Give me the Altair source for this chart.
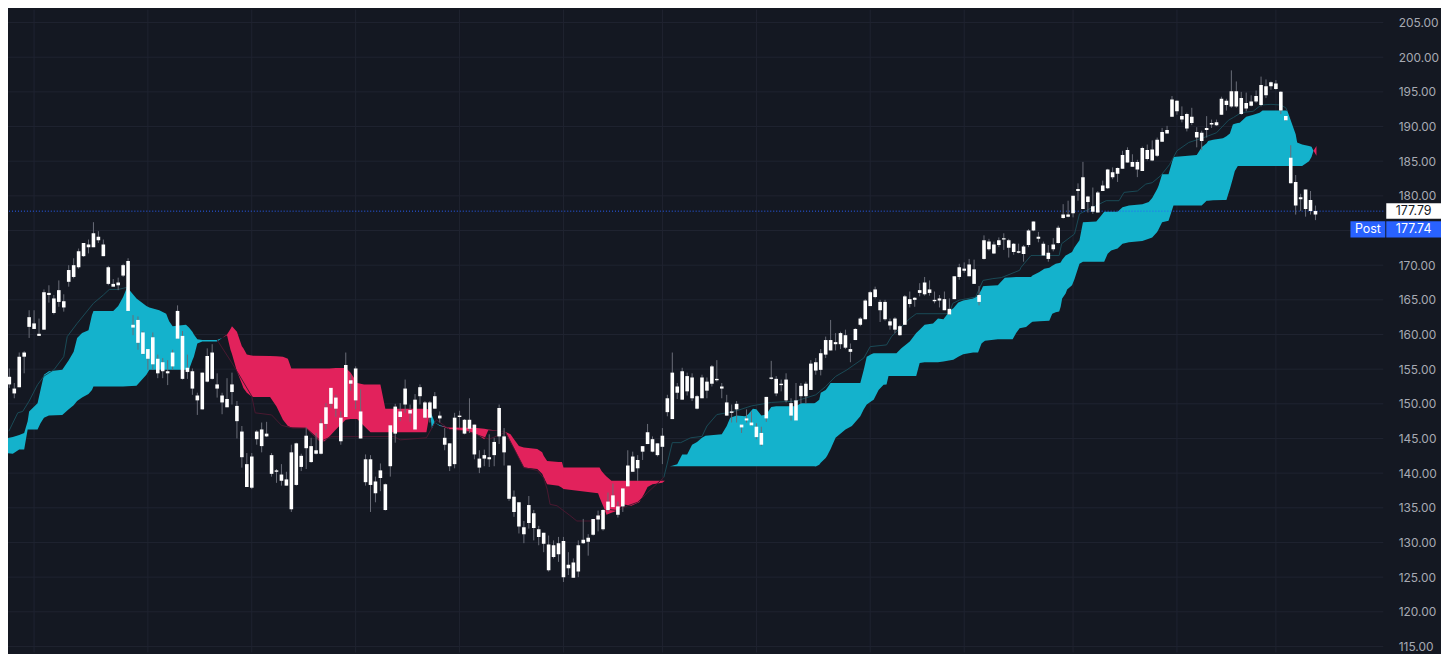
import altair as alt
import pandas as pd

# ---------------- candles (all bodies drawn white, so open/close order is not visible) ----------------
body_top = [
    155.4, 153.9, 152.2, 156.8, 157.4, 162.5, 161.6, 160.1, 166.1, 166.0,
    165.2, 166.4, 164.8, 169.3, 170.0, 172.0, 173.2, 173.0, 174.6, 174.1,
    173.0, 169.7, 167.3, 167.5, 170.0, 170.6, 161.4, 162.1, 160.3, 157.9,
    159.6, 156.5, 156.0, 154.7, 157.4, 163.4, 159.8, 155.2, 154.7, 151.2,
    154.5, 156.9, 157.4, 152.8, 151.2, 150.7, 152.8, 149.7, 146.0, 141.3,
    142.4, 146.0, 146.3, 145.7, 142.6, 140.4, 139.8, 139.1, 143.0, 144.3,
    142.5, 145.4, 143.9, 143.3, 147.2, 149.5, 152.3, 150.9, 148.0, 155.6,
    153.4, 155.1, 148.9, 142.0, 142.0, 138.8, 140.4, 138.4, 146.9, 149.6,
    148.9, 152.2, 149.1, 150.6, 152.4, 150.2, 150.2, 151.1, 148.3, 145.1,
    144.3, 148.0, 148.3, 147.7, 147.7, 147.0, 142.1, 142.6, 142.3, 144.5,
    149.4, 145.3, 141.1, 136.6, 135.8, 132.2, 135.4, 134.2, 131.9, 131.4,
    129.7, 129.6, 129.9, 130.2, 126.8, 127.1, 129.6, 130.4, 130.7, 133.4,
    133.9, 134.7, 135.9, 136.8, 135.2, 137.8, 141.1, 142.4, 141.9, 143.9,
    145.9, 144.9, 144.3, 145.4, 150.8, 154.5, 152.5, 154.7, 154.0, 153.8,
    151.1, 153.8, 153.2, 155.4, 153.6, 152.5, 150.2, 148.9, 150.0, 147.0,
    147.9, 147.3, 146.7, 145.8, 151.0, 153.8, 153.6, 152.9, 153.5, 150.1,
    150.5, 152.6, 152.9, 155.8, 156.0, 157.3, 159.2, 159.2, 158.9, 160.2,
    159.9, 157.9, 160.8, 162.3, 164.9, 166.1, 166.5, 164.7, 164.7, 161.9,
    162.3, 161.2, 165.5, 165.1, 165.3, 166.4, 167.5, 166.5, 165.0, 165.2,
    165.1, 163.7, 168.4, 169.7, 169.5, 170.1, 169.4, 165.7, 173.6, 173.4,
    173.0, 173.6, 173.9, 173.6, 173.1, 172.0, 172.7, 175.0, 176.3, 174.1,
    173.1, 171.8, 173.0, 175.4, 177.3, 177.3, 180.0, 181.0, 182.7, 179.9,
    178.5, 180.5, 181.5, 183.8, 183.4, 184.0, 185.9, 186.6, 184.9, 184.9,
    186.9, 186.6, 186.7, 188.1, 189.2, 189.5, 193.9, 193.7, 191.5, 191.8,
    191.4, 189.2, 189.1, 189.8, 190.5, 190.6, 194.0, 193.7, 195.1, 195.1,
    194.1, 193.4, 193.6, 194.4, 196.0, 195.8, 196.4, 196.2, 195.0, 191.5,
    185.5, 182.0, 179.8, 180.9, 179.4, 177.8,
]
body_bottom = [
    154.0, 152.8, 151.5, 152.4, 156.8, 161.1, 160.8, 159.8, 160.7, 165.7,
    163.1, 164.7, 163.9, 167.6, 168.3, 169.7, 171.3, 172.6, 172.6, 173.6,
    171.3, 167.3, 166.9, 167.1, 168.5, 163.4, 161.0, 158.8, 157.2, 156.5,
    155.7, 154.4, 154.7, 154.4, 155.4, 159.4, 153.6, 154.6, 152.2, 150.5,
    149.2, 153.2, 153.6, 152.2, 150.2, 149.5, 151.7, 147.5, 142.3, 138.0,
    137.9, 144.9, 143.9, 145.3, 139.9, 140.2, 138.9, 138.2, 134.8, 138.3,
    140.9, 143.6, 141.6, 142.8, 142.8, 147.1, 150.0, 149.3, 144.6, 148.1,
    152.9, 150.5, 145.0, 138.7, 138.3, 137.1, 139.3, 134.7, 141.0, 145.7,
    148.1, 149.9, 148.6, 146.3, 151.1, 148.0, 148.0, 149.3, 147.9, 144.1,
    141.0, 141.3, 148.1, 145.7, 146.4, 142.7, 140.8, 142.1, 142.0, 142.6,
    145.3, 143.0, 136.3, 134.4, 132.3, 131.2, 132.8, 132.1, 130.8, 129.8,
    126.0, 127.9, 128.3, 125.0, 126.3, 124.9, 125.8, 129.9, 130.1, 131.1,
    133.3, 131.9, 134.7, 135.1, 134.0, 135.2, 138.1, 140.2, 140.7, 143.1,
    144.2, 143.1, 142.6, 143.8, 148.8, 147.8, 151.6, 150.6, 151.8, 150.8,
    149.3, 150.8, 151.9, 152.9, 153.4, 152.2, 148.3, 148.7, 149.2, 146.6,
    147.6, 146.9, 145.2, 144.1, 147.9, 153.6, 151.5, 152.7, 150.5, 148.3,
    147.6, 151.1, 151.1, 152.0, 154.8, 154.9, 157.1, 157.7, 158.6, 158.6,
    158.1, 157.5, 159.2, 161.4, 162.2, 164.1, 165.4, 163.5, 162.2, 161.3,
    160.7, 159.9, 161.4, 164.4, 165.0, 166.0, 165.8, 166.0, 164.8, 164.9,
    163.5, 162.9, 165.1, 168.3, 169.2, 168.4, 167.3, 164.7, 170.9, 172.3,
    171.7, 172.9, 173.7, 172.5, 171.9, 171.8, 171.6, 172.9, 175.0, 173.8,
    171.4, 170.9, 172.3, 173.2, 176.8, 177.0, 177.5, 180.7, 178.1, 179.1,
    177.7, 177.6, 180.7, 181.1, 182.7, 183.2, 183.9, 184.8, 184.2, 183.8,
    183.6, 185.3, 185.1, 185.8, 187.8, 189.0, 191.4, 192.2, 191.0, 189.7,
    190.5, 188.4, 187.9, 189.5, 190.3, 190.2, 191.7, 193.1, 192.9, 192.9,
    191.8, 192.6, 193.0, 193.6, 193.1, 194.5, 195.8, 195.4, 192.3, 190.9,
    181.8, 178.6, 179.5, 178.1, 177.8, 177.3,
]
high = [
    156.0, 155.1, 153.0, 157.4, 157.6, 163.5, 163.5, 162.3, 166.5, 167.1,
    165.7, 167.8, 165.8, 170.0, 171.0, 172.4, 173.2, 173.7, 176.2, 174.9,
    173.7, 169.9, 168.0, 168.2, 170.2, 171.0, 162.8, 162.6, 160.5, 157.9,
    160.3, 157.1, 156.6, 156.3, 157.8, 164.2, 160.5, 157.1, 155.1, 151.6,
    154.5, 158.0, 158.6, 154.4, 151.6, 153.7, 154.5, 150.4, 146.8, 142.9,
    142.9, 146.2, 147.3, 147.4, 142.9, 140.6, 141.3, 140.2, 144.1, 144.4,
    142.8, 146.6, 145.1, 145.8, 147.8, 150.1, 152.3, 151.3, 148.9, 157.4,
    154.2, 155.4, 152.1, 142.7, 142.6, 139.5, 141.4, 138.5, 146.9, 150.0,
    150.1, 153.5, 149.9, 151.4, 152.8, 150.4, 150.4, 151.7, 148.9, 146.5,
    144.3, 148.7, 149.0, 147.8, 150.8, 147.0, 143.3, 143.4, 145.6, 145.1,
    149.9, 146.5, 141.1, 137.5, 135.8, 133.1, 136.7, 134.7, 132.4, 131.4,
    131.0, 130.3, 130.8, 130.8, 128.6, 127.7, 130.3, 133.4, 131.2, 133.4,
    134.6, 134.8, 137.2, 138.5, 135.9, 137.8, 143.3, 143.1, 142.6, 143.9,
    147.1, 145.3, 144.3, 146.5, 151.3, 157.4, 153.0, 155.2, 154.5, 154.4,
    151.3, 154.2, 153.8, 155.6, 156.3, 153.0, 151.3, 149.9, 150.4, 147.0,
    149.2, 148.9, 147.2, 146.7, 151.0, 156.2, 154.0, 153.5, 154.4, 150.8,
    153.0, 153.0, 153.2, 156.3, 156.6, 157.9, 159.7, 162.1, 160.2, 160.4,
    160.7, 158.7, 160.9, 162.5, 165.1, 166.3, 166.9, 165.0, 165.0, 162.3,
    162.5, 161.4, 165.7, 166.2, 165.4, 167.4, 168.3, 167.8, 166.2, 165.7,
    166.2, 165.2, 168.4, 170.2, 170.4, 170.9, 170.8, 167.0, 174.3, 173.8,
    173.4, 174.0, 174.6, 173.8, 173.2, 173.1, 172.9, 175.2, 176.3, 174.8,
    173.4, 172.9, 173.9, 175.7, 178.8, 179.3, 180.0, 181.8, 184.9, 180.0,
    181.2, 180.7, 182.2, 183.9, 184.1, 184.1, 186.5, 187.0, 186.0, 185.2,
    187.1, 187.4, 188.0, 188.4, 189.8, 190.1, 194.4, 193.8, 192.9, 192.0,
    192.7, 189.9, 189.4, 191.5, 191.0, 191.0, 194.3, 194.0, 198.1, 196.5,
    195.0, 194.9, 194.5, 195.2, 197.2, 196.8, 196.5, 196.7, 195.1, 191.5,
    187.3, 183.0, 180.3, 180.9, 180.7, 178.6,
]
low = [
    153.0, 152.3, 150.8, 152.4, 154.4, 159.5, 160.8, 159.8, 160.7, 164.6,
    162.9, 164.0, 163.3, 166.9, 168.1, 169.5, 171.2, 171.7, 172.6, 173.2,
    171.3, 167.1, 166.9, 166.4, 168.3, 163.4, 159.9, 157.8, 157.1, 154.9,
    154.9, 153.7, 153.7, 152.7, 154.9, 159.4, 153.5, 153.6, 151.3, 148.4,
    149.2, 153.1, 153.5, 150.9, 148.5, 149.5, 149.9, 145.0, 140.8, 138.0,
    137.7, 144.1, 143.0, 145.2, 139.5, 138.6, 138.2, 138.2, 134.4, 138.2,
    140.3, 140.6, 141.5, 142.7, 142.7, 146.3, 149.4, 148.1, 144.1, 148.1,
    151.9, 149.2, 145.0, 138.2, 134.4, 135.8, 137.4, 134.6, 139.5, 144.4,
    147.5, 148.7, 147.4, 146.3, 149.9, 147.8, 147.3, 149.3, 147.3, 143.3,
    140.3, 140.7, 146.5, 145.6, 145.8, 142.0, 140.0, 141.0, 140.9, 141.0,
    144.2, 141.1, 136.0, 133.7, 131.3, 129.9, 132.0, 130.3, 129.6, 128.6,
    125.8, 127.7, 127.2, 124.3, 125.3, 124.9, 125.0, 129.8, 128.1, 131.0,
    131.6, 131.7, 134.4, 135.1, 133.6, 134.4, 138.1, 140.2, 138.9, 141.9,
    144.2, 143.0, 142.4, 141.3, 148.2, 147.8, 150.7, 150.6, 151.2, 150.4,
    149.2, 150.8, 150.8, 152.5, 153.2, 150.8, 148.3, 147.3, 147.3, 145.8,
    147.3, 146.8, 144.9, 143.9, 147.4, 153.5, 151.1, 151.8, 150.2, 147.6,
    147.6, 150.0, 150.0, 152.0, 154.2, 154.1, 156.6, 157.7, 157.7, 157.9,
    157.9, 156.0, 159.2, 161.2, 162.2, 164.1, 165.2, 161.8, 162.0, 160.7,
    160.2, 159.8, 161.4, 163.9, 164.0, 165.5, 165.6, 165.6, 164.5, 163.9,
    163.5, 162.8, 165.1, 167.9, 168.9, 168.4, 167.3, 164.2, 170.8, 172.1,
    171.6, 172.6, 172.2, 171.1, 171.5, 171.7, 170.5, 172.6, 174.9, 173.3,
    171.4, 170.5, 172.0, 173.1, 176.7, 176.9, 176.9, 179.3, 178.1, 177.6,
    177.4, 177.6, 180.7, 181.0, 182.4, 182.0, 183.9, 184.8, 184.2, 182.7,
    183.6, 185.1, 185.0, 185.6, 187.8, 189.0, 191.4, 191.7, 190.6, 189.3,
    190.2, 187.0, 186.6, 188.4, 189.8, 190.1, 191.7, 192.3, 192.7, 192.7,
    191.7, 192.2, 192.9, 193.4, 192.9, 194.1, 195.3, 195.3, 191.8, 190.8,
    181.8, 177.3, 177.8, 177.0, 177.3, 176.5,
]

# ---------------- cloud: leading span A / span B, sampled at bar positions ----------------
cloud_pos = [
    0, 1.7, 3, 4, 4.7, 5, 6.7, 7.3, 8, 9, 11.7, 13, 14, 14.7, 15.7, 17, 17.7, 18, 22, 23,
    24, 24.8, 26.7, 28.7, 29.3, 31.3, 32.7, 33.3, 34, 36.7, 37.3, 38, 38.3, 39, 40, 43, 44,
    45, 45.7, 46, 47, 48, 48.3, 49, 49.7, 50.3, 53.7, 55, 56.3, 57.3, 58, 61, 63.7, 64.7,
    65.7, 67, 68, 69, 70, 71.3, 72.7, 74, 76, 77, 85.3, 86,
    86.4, 87, 88, 89.7, 94, 95.5, 97, 97.8, 100,
    101.3, 102.3, 103, 104, 105, 107.7, 108.7, 109, 109.7, 112, 112.7, 113, 120, 120.3,
    120.7, 121.3, 121.7, 122.7, 124, 125, 126.7, 128.3, 129.3, 130, 131, 133, 133.5, 134.5,
    135, 136, 137, 138, 139, 140, 141, 141.7, 145, 146, 146.7, 148, 149.7, 150.3, 151.3,
    152, 153, 154, 155, 156, 160, 161, 163.7, 164, 164.7, 165, 166, 166.3, 167, 168, 170,
    171.3, 173, 173.7, 174.3, 175.3, 175.7, 176.7, 177.7, 178.3, 178.7, 180.3, 181.3, 183,
    184.3, 185, 186, 187.7, 188.7, 189.8,
    191.2, 191.8, 192.8, 193.8, 195.8, 196.8, 197.5, 197.8, 198.2, 200.8, 202.2, 203.8,
    204.5, 205.2, 206.5, 207.5, 207.8, 209.2, 210.2, 211.2, 211.8, 212.5, 213.2, 213.5,
    213.8, 214.5, 214.8, 215.8, 216.3, 217.3, 218, 220.7, 221.7, 222.3, 223, 223.7, 225,
    226, 227.3, 230, 231.3, 232, 233, 233.3, 234, 235.3, 236.3, 241, 242, 243, 243.3, 244.3,
    246.3, 247, 247.7, 248.3, 248.7, 249.3, 249.7, 251, 252.3, 253.7, 254.3, 259.3, 260.3,
    261, 261.3, 262.3, 263.7, 264.2, 264.6, 265.2,
]
span_a = [
    144.95, 145.2, 145.5, 145.8, 147.5, 148.9, 150.1, 152.0, 154.2, 154.7, 154.9, 156.3, 157.5,
    159.5, 160.2, 160.6, 162.8, 163.4, 163.4, 164.1,
    165.4, 166.8, 165.2, 164.1, 163.9, 163.5, 163.0, 161.9, 161.2, 161.4, 161.0, 160.4, 160.0,
    159.3, 159.2, 159.2, 159.5,
    159.9, 157.8, 157.2, 154.7, 152.9, 152.3, 151.6, 151.2, 151.0, 151.0, 149.6, 147.7, 146.8,
    146.6, 146.5, 144.6, 144.6,
    145.3, 146.3, 147.0, 147.7, 147.8, 147.8, 146.8, 145.9, 145.9, 145.9, 145.9, 148.8,
    148.4, 147.3, 146.9, 146.4, 146.0, 145.6, 144.9, 146.2, 146.1,
    145.9, 144.5, 143.6, 142.2, 140.8, 140.6, 139.9, 139.4, 138.4, 138.2, 137.9, 137.7, 137.1,
    136.5,
    135.8, 134.8, 134.0, 134.3, 134.6, 135.5, 135.3, 135.8, 137.0, 138.0, 138.4, 138.6, 138.9,
    141.0,
    141.05, 141.3, 142.7, 142.7, 144.1, 144.5, 145.1, 145.4, 145.6, 146.8, 148.0, 148.3, 148.2,
    148.45, 149.3,
    149.2, 148.3, 148.45, 149.55, 149.65, 149.65, 150.1, 150.1, 150.2, 150.6, 151.6, 152.0,
    152.3, 153.0, 153.0, 153.0,
    153.0, 153.0, 154.9, 156.8, 157.2, 157.3, 157.3, 157.3, 157.3, 157.3, 157.3, 158.0, 159.0,
    160.2, 160.7, 161.4, 161.6, 162.3, 162.2,
    163.5, 163.8, 164.6, 164.9, 165.2, 165.6, 166.5, 166.96, 167.0, 167.1, 168.2, 168.25,
    168.3, 168.3, 168.3, 168.3, 168.5, 169.0, 169.5, 169.64, 169.9, 170.2, 170.3, 170.4,
    170.8, 171.4, 171.5, 171.9, 172.6, 173.6, 176.2, 176.3, 177.15, 177.7, 177.7, 177.7, 177.7,
    178.35, 178.6, 178.8, 179.1, 179.7, 181.0, 181.5, 183.1, 183.1, 185.6, 185.9, 187.0, 187.6,
    187.9, 188.1,
    188.3, 188.6, 189.0, 190.3, 190.4, 190.5, 190.55, 191.4, 191.65, 192.0, 192.3, 192.3, 190.3,
    188.9, 187.7, 187.4, 187.2, 187.1, 186.5, 185.8,
]
span_b = [
    142.9, 142.8, 143.4, 143.4, 146.3, 146.3, 146.3, 147.2, 148.0, 148.3, 148.4, 149.2, 149.8,
    150.4, 150.9, 151.4, 152.0, 152.5, 152.5, 152.5,
    152.5, 152.55, 152.6, 154.2, 154.9, 154.9, 154.9, 154.9, 154.9, 154.9, 154.9, 156.3, 156.8,
    158.7, 159.0, 159.0, 159.5,
    160.0, 160.8, 161.2, 160.4, 158.3, 158.0, 157.1, 157.0, 156.95, 156.9, 156.85, 156.8, 156.5,
    155.1, 155.1, 155.1, 155.1,
    155.1, 155.15, 155.15, 155.15, 154.5, 153.0, 152.8, 152.8, 152.8, 149.3, 149.3, 149.1,
    146.4, 147.3, 146.8, 146.6, 146.55, 146.5, 146.4, 146.3, 146.1,
    145.95, 145.6, 144.9, 143.9, 143.7, 143.5, 143.0, 142.5, 141.75, 141.6, 141.6, 140.8, 140.8,
    140.8,
    140.3, 139.8, 139.5, 138.9, 138.9, 138.9, 138.9, 138.9, 138.9, 138.9, 138.9, 138.9, 138.9,
    141.0,
    141.0, 141.0, 141.0, 141.0, 141.0, 141.0, 141.0, 141.0, 141.0, 141.0, 141.0, 141.0, 141.0,
    141.0, 141.0,
    141.0, 141.0, 141.0, 141.0, 141.0, 141.0, 141.0, 141.0, 140.95, 141.2, 141.5, 142.2,
    142.5, 143.5, 145.1, 146.3,
    146.8, 148.2, 149.2, 149.9, 150.4, 150.6, 152.0, 152.75, 152.8, 154.0, 154.0, 154.0, 154.0,
    154.0, 155.9, 156.0, 156.0, 156.0, 156.1,
    156.3, 156.34, 156.8, 157.15, 157.4, 157.4, 158.7, 158.9, 159.1, 159.3, 159.3, 159.3,
    160.2, 160.9, 161.1, 161.7, 161.84, 161.9, 161.95, 162.0, 163.0, 163.2, 163.3, 164.0,
    165.2, 165.9, 166.5, 167.1, 168.0, 170.2, 170.5, 170.5, 170.5, 170.5, 171.65, 172.1, 172.4,
    173.1, 173.3, 173.5, 173.8, 174.0, 174.8, 175.2, 176.2, 176.4, 178.6, 178.6, 178.6, 179.3,
    179.3, 179.35,
    179.4, 179.4, 181.0, 182.5, 183.6, 184.3, 184.3, 184.3, 184.3, 184.3, 184.3, 184.3, 184.3,
    184.3, 184.3, 184.3, 185.0, 185.6, 186.5, 187.2,
]

# ---------------- thin dark lead line that runs just outside the cloud ----------------
lead1_pos = [0.9, 2.7, 3.7, 5, 6.7, 8, 10, 12, 12.7, 14.7, 18, 20, 21.2, 23, 24.8]
lead1_val = [146.05, 148.7, 148.9, 150.4, 152.75, 154.0, 154.9, 156.8, 159.7, 161.6, 164.5,
             165.7, 166.5, 166.5, 166.8]
lead2_pos = [43, 46, 50, 50.7, 54, 56, 58.3, 61, 64, 66, 78.7, 80, 85.3, 87.3, 90, 93.3, 98,
             101.3, 105, 107.7, 109, 109.7, 110.3, 111.7, 114.3, 115.7, 119, 121.7, 124, 126,
             128, 130, 133.3]
lead2_val = [159.2, 155.9, 151.1, 148.7, 148.4, 146.9, 146.5, 146.5, 144.6, 145.25, 145.3,
             144.8, 145.1, 147.7, 146.3, 146.1, 144.9, 145.9, 140.8, 140.4, 139.3, 137.7, 135.5,
             135.3, 133.9, 133.1, 133.1, 134.8, 134.6, 135.3, 135.8, 137.2, 139.4]
lead3_pos = [133.3, 135, 136.7, 138.7, 141, 142, 144, 146, 148, 151, 155, 160, 164, 166, 168,
             170.3, 171.7, 173.7, 175, 178.3, 179.3, 183, 184.3, 191, 191.7, 193, 196.3, 197.8,
             199.8, 201.5, 205.2, 205.5, 207.5, 213.2, 213.7, 216.3, 217.3, 222.7, 225.3, 226.3,
             229, 230.7, 232, 233.7, 235.5, 237, 239.4, 242.4, 245, 247.4, 248.4, 250, 252.4,
             254, 256, 258, 259, 259.3]
lead3_val = [139.4, 144.4, 144.4, 145.1, 145.3, 146.8, 148.45, 148.7, 149.0, 149.7, 150.2,
             150.4, 151.3, 152.5, 153.95, 154.9, 155.6, 156.6, 158.25, 158.5, 159.7, 162.3,
             163.0, 163.0, 164.5, 164.95, 165.4, 167.8, 168.06, 168.2, 169.26, 169.7, 171.4,
             171.4, 173.1, 174.5, 177.4, 179.3, 179.3, 180.5, 180.7, 181.7, 181.9, 182.9, 184.5,
             186.5, 187.7, 188.4, 189.1, 190.9, 191.3, 192.0, 192.2, 193.1, 193.2, 193.1, 192.7,
             192.2]

month_starts = [6, 29, 50, 71, 92, 113, 133, 152, 175, 194, 216, 237, 257]
y_ticks = [115, 120, 125, 130, 135, 140, 145, 150, 155, 160, 165, 170, 175, 180, 185, 190,
           195, 200, 205]
hidden_tick = 175          # this scale label sits under the price tags in the reference
last_price = 177.79
post_price = 177.74
post_tag = "Post"

# ---------------- styling ----------------
BG = "#141822"
GRID = "#1f2330"
CYAN = "#14b2cc"
RED = "#e2225c"
WICK = "#6a6d78"
BLUE = "#2962ff"
FONT = "Inter"

W, H = 1382, 646

candles = pd.DataFrame({"i": list(range(len(body_top))), "top": body_top,
                        "bottom": body_bottom, "high": high, "low": low})
cloud = pd.DataFrame({"i": cloud_pos, "a": span_a, "b": span_b})
cloud["hi"] = cloud[["a", "b"]].max(axis=1)

lead = pd.concat([
    pd.DataFrame({"i": lead1_pos, "v": lead1_val, "seg": "s1", "kind": "up"}),
    pd.DataFrame({"i": lead2_pos, "v": lead2_val, "seg": "s2", "kind": "down"}),
    pd.DataFrame({"i": lead3_pos, "v": lead3_val, "seg": "s3", "kind": "up"}),
], ignore_index=True)

months = pd.DataFrame({"i": month_starts})
hgrid = pd.DataFrame({"p": y_ticks})
price_df = pd.DataFrame({"p": [last_price], "label": [f"{last_price:.2f}"]})
post_df = pd.DataFrame({"p": [post_price], "label": [f"{post_price:.2f}"], "tag": [post_tag]})

xs = alt.Scale(domain=[1.735, 277.7], nice=False, zero=False)
ys = alt.Scale(domain=[114.14, 206.87], nice=False, zero=False)
yaxis = alt.Axis(orient="right", values=[v for v in y_ticks if v != hidden_tick],
                 format=".2f", title=None,
                 labelColor="#a7aab3", labelFont=FONT, labelFontSize=12,
                 labelPadding=15, labelAlign="left", labelBaseline="middle",
                 ticks=False, domain=False, grid=False,
                 labelOverlap=False, labelFlush=False, zindex=0)


def X(f):
    return alt.X(f, type="quantitative", scale=xs, axis=None)


def Y(f):
    return alt.Y(f, type="quantitative", scale=ys, axis=yaxis)


month_rules = alt.Chart(months).mark_rule(color=GRID, strokeWidth=1).encode(x=X("i"))
price_rules = alt.Chart(hgrid).mark_rule(color=GRID, strokeWidth=1).encode(y=Y("p"))

cyan_area = alt.Chart(cloud).mark_area(color=CYAN, clip=True, interpolate="linear").encode(
    x=X("i"), y=Y("b"), y2="hi")
red_area = alt.Chart(cloud).mark_area(color=RED, clip=True, interpolate="linear").encode(
    x=X("i"), y=Y("a"), y2="hi")

lead_lines = alt.Chart(lead).mark_line(strokeWidth=1, clip=True).encode(
    x=X("i"), y=Y("v"), detail="seg:N",
    color=alt.Color("kind:N", scale=alt.Scale(domain=["up", "down"],
                                              range=["#1a4b57", "#4a1830"]), legend=None))

price_line = alt.Chart(price_df).mark_rule(color=BLUE, strokeDash=[1, 2], strokeWidth=1).encode(
    y=Y("p"))

wicks = alt.Chart(candles).mark_rule(color=WICK, strokeWidth=1, clip=True).encode(
    x=X("i"), y=Y("low"), y2="high")
bodies = alt.Chart(candles).mark_bar(color="#ffffff", size=3.6, clip=True).encode(
    x=X("i"), y=Y("bottom"), y2="top")

box_last = alt.Chart(price_df).mark_rect(color="#ffffff", yOffset=-8, y2Offset=7.5).encode(
    x=alt.value(1385), x2=alt.value(1440), y=Y("p"), y2="p")
txt_last = alt.Chart(price_df).mark_text(color="#131722", font=FONT, fontSize=12.5,
                                         align="center", baseline="middle").encode(
    x=alt.value(1412.5), y=Y("p"), text="label:N")

box_post_tag = alt.Chart(post_df).mark_rect(color=BLUE, yOffset=9.7, y2Offset=26).encode(
    x=alt.value(1349), x2=alt.value(1384), y=Y("p"), y2="p")
box_post_val = alt.Chart(post_df).mark_rect(color=BLUE, yOffset=9.7, y2Offset=26).encode(
    x=alt.value(1385), x2=alt.value(1440), y=Y("p"), y2="p")
txt_post_tag = alt.Chart(post_df).mark_text(color="#ffffff", font=FONT, fontSize=12.5,
                                            align="center", baseline="middle", yOffset=18).encode(
    x=alt.value(1366.5), y=Y("p"), text="tag:N")
txt_post_val = alt.Chart(post_df).mark_text(color="#ffffff", font=FONT, fontSize=12.5,
                                            align="center", baseline="middle", yOffset=18).encode(
    x=alt.value(1412.5), y=Y("p"), text="label:N")

chart = alt.layer(
    month_rules, price_rules, cyan_area, red_area, lead_lines, price_line, wicks, bodies,
    box_last, txt_last, box_post_tag, box_post_val, txt_post_tag, txt_post_val,
).properties(
    width=W, height=H,
    padding={"left": 0, "top": 0, "right": 58, "bottom": 0},
    autosize=alt.AutoSizeParams(type="none"),
).configure(background=BG, font=FONT).configure_view(stroke=None)

chart.save("out.html", embed_options={"renderer": "svg", "actions": False})
